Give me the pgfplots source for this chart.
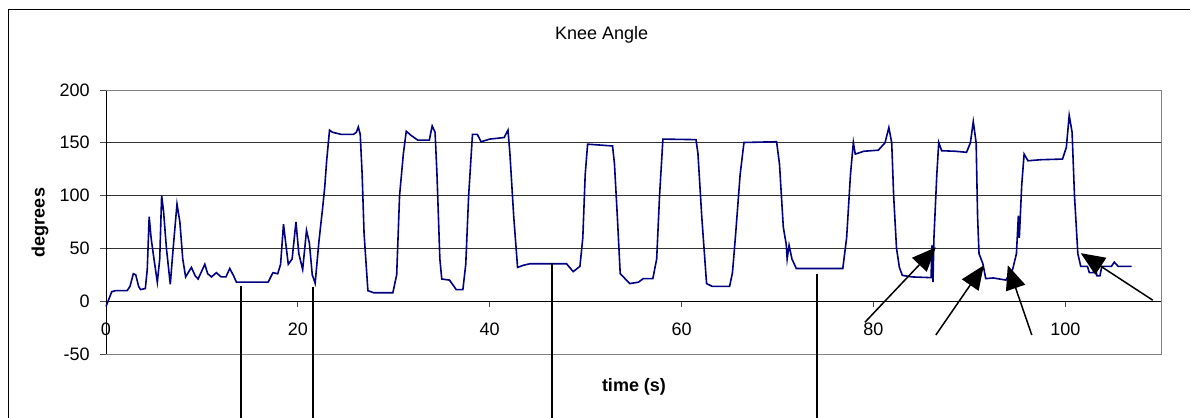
\documentclass[border=0pt]{standalone}
\usepackage{fontspec}
\setmainfont{Liberation Sans}
\usepackage{pgfplots}
\pgfplotsset{compat=1.18}
\usetikzlibrary{arrows.meta}
\definecolor{navyline}{RGB}{0,0,128}
\begin{document}
\fontsize{9bp}{10.8bp}\selectfont
\begin{tikzpicture}
\useasboundingbox (0,0) rectangle (595bp,209bp);
\begin{scope}
\clip (0,0) rectangle (595bp,209bp);
\draw[line width=0.75bp] (4.15bp,-5bp) -- (4.15bp,204.25bp) -- (600bp,204.25bp);
\begin{axis}[
  at={(53bp,32bp)}, anchor=south west,
  scale only axis, width=527.65bp, height=132bp,
  xmin=0, xmax=110, ymin=-50, ymax=200,
  axis x line=middle, axis y line=left,
  axis line style={-, black, line width=0.5bp},
  hide obscured x ticks=false,
  xtick={0,20,40,60,80,100}, xticklabels={0,20,40,60,80,100},
  ytick={-50,0,50,100,150,200}, yticklabels={-50,0,50,100,150,200},
  ymajorgrids, grid style={black!80, line width=0.5bp},
  tick style={black!70, line width=0.5bp},
  xtick align=outside, ytick align=outside,
  major tick length=3bp,
  tick label style={font=\fontsize{9bp}{10.8bp}\selectfont},
  xticklabel style={yshift=-4.5bp},
  yticklabel style={xshift=-2bp},
  clip=false,
]
\draw[black!50, line width=0.5bp] (rel axis cs:0,0) -- (rel axis cs:1,0) -- (rel axis cs:1,1) -- (rel axis cs:0,1);
\addplot[navyline, line width=0.8bp] coordinates {
(0,-5) (0.3,2) (0.6,9) (1.0,10) (2.2,10) (2.5,14) (2.85,26) (3.1,25) (3.4,14) (3.6,11) (4.1,12)
(4.3,30) (4.5,80) (4.7,60) (5.0,40) (5.35,18) (5.6,40) (5.8,100) (6.0,85) (6.3,50) (6.7,16)
(7.0,50) (7.4,92) (7.7,75) (8.0,40) (8.3,23) (8.9,32) (9.3,24) (9.6,21) (10.3,35) (10.6,26)
(11.0,23) (11.5,27) (12.0,23) (12.5,23) (12.9,31) (13.3,24) (13.6,18) (16.9,18) (17.4,27)
(17.9,26) (18.2,35) (18.5,73) (18.8,50) (19.0,35) (19.4,40) (19.8,75) (20.1,45) (20.5,30)
(20.9,67) (21.2,55) (21.5,25) (21.8,17) (22.2,57) (22.6,90) (22.8,108) (23.0,133) (23.3,162)
(23.6,160) (24.5,158) (25.8,158) (26.1,160) (26.3,165) (26.5,158) (26.7,120) (26.9,64) (27.3,10) (27.9,8) (29.9,8)
(30.3,25) (30.6,100) (31.0,140) (31.3,161) (31.8,157) (32.5,152.5) (33.7,152.5) (34.0,166)
(34.3,160) (34.5,120) (34.8,40) (35.0,21) (35.8,20) (36.2,15) (36.5,11) (37.2,11) (37.5,35)
(37.8,100) (38.2,158) (38.7,158) (39.1,151) (40.0,153.5) (41.5,155) (41.9,162) (42.1,140)
(42.5,80) (42.9,32) (43.5,34) (44.2,35.5) (48.0,35.5) (48.7,28) (49.4,33) (49.7,60) (49.95,120)
(50.2,148.7) (52.8,147) (53.0,130) (53.3,80) (53.6,26) (54.6,16.7) (55.5,18) (56.0,21.4)
(57.0,21.4) (57.4,40) (57.7,100) (58.05,153.5) (61.5,153) (61.7,140) (62.1,80) (62.6,16.7)
(63.2,14) (65.0,14) (65.3,27) (65.6,60) (66.1,120) (66.5,150.3) (69.9,151) (70.2,130) (70.6,70)
(70.9,54) (71.0,40) (71.2,53) (71.5,40) (71.95,31) (75.4,31) (76.8,31) (77.2,60) (77.6,120)
(77.9,150.3) (78.1,139.3) (79.0,142) (80.5,143) (81.2,150) (81.6,164.5) (81.9,150) (82.1,100)
(82.4,50) (82.7,32) (83.0,24.5) (84,23) (86.0,22.3) (86.1,52.8) (86.2,18) (86.3,60) (86.6,120)
(86.8,150.3) (87.1,142.5) (88.5,142) (89.7,141) (90.1,150) (90.4,170) (90.7,150) (90.85,80)
(91.0,45) (91.4,35.5) (91.7,21.4) (92.5,22) (93.8,20) (94.5,30) (94.9,45) (95.1,81) (95.2,60)
(95.45,110) (95.7,139.3) (96.1,133) (97.5,134) (99.7,134.6) (100.1,145.6) (100.4,176) (100.7,160)
(100.95,100) (101.3,45) (101.6,33) (102.3,33) (102.5,27) (102.9,27) (103.1,33) (103.3,24)
(103.6,24) (103.8,33) (104.8,33) (105.1,37) (105.5,33) (106.9,33)
};
\draw[line width=1bp] (axis cs:14.06,14) -- (axis cs:14.06,-130);
\draw[line width=1bp] (axis cs:21.53,13.5) -- (axis cs:21.53,-130);
\draw[line width=1bp] (axis cs:46.49,36) -- (axis cs:46.49,-130);
\draw[line width=1bp] (axis cs:74.06,26) -- (axis cs:74.06,-130);
\draw[line width=0.75bp, -{Triangle[length=12bp,width=10bp]}] (axis cs:79.1,-20) -- (axis cs:86.5,51);
\draw[line width=0.75bp, -{Triangle[length=12bp,width=10bp]}] (axis cs:86.5,-32) -- (axis cs:91.5,34);
\draw[line width=0.75bp, -{Triangle[length=12bp,width=10bp]}] (axis cs:96.5,-32) -- (axis cs:94.0,34);
\draw[line width=0.75bp, -{Triangle[length=12bp,width=10bp]}] (axis cs:109.1,1) -- (axis cs:101.6,45.5);
\end{axis}
\node[anchor=base] at (300.8bp,189bp) {Knee Angle};
\node[anchor=base, font=\bfseries] at (317bp,13.5bp) {time (s)};
\node[rotate=90, font=\bfseries] at (20bp,97.75bp) {degrees};
\end{scope}
\end{tikzpicture}
\end{document}
